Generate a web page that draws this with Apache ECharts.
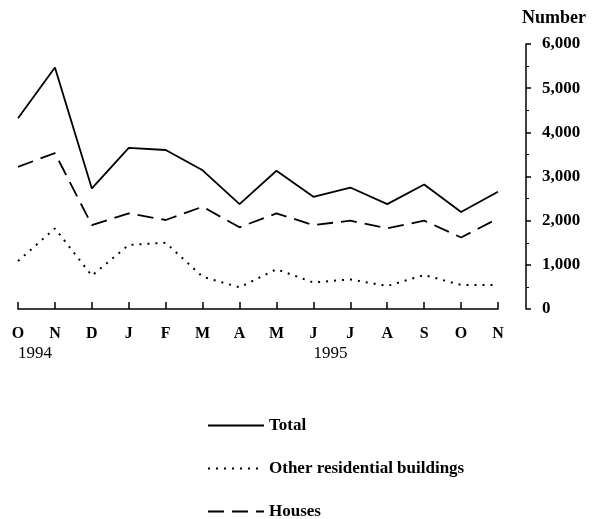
<!DOCTYPE html>
<html>
<head>
<meta charset="utf-8">
<script src="https://cdn.jsdelivr.net/npm/echarts@6/dist/echarts.min.js"></script>
<style>html,body{margin:0;padding:0;background:#fff}#c{width:593px;height:519px}</style>
</head>
<body>
<div id="c"></div>
<script>
const months = ['O','N','D','J','F','M','A','M','J','J','A','S','O','N'];
const years = ['1994','','','','','','','','1995','','','','',''];
const total = [4320, 5470, 2730, 3650, 3600, 3140, 2375, 3130, 2540, 2750, 2375, 2820, 2195, 2655];
const other = [1085, 1825, 755, 1450, 1500, 730, 490, 900, 600, 670, 520, 770, 545, 545];
const houses = [3220, 3530, 1900, 2165, 2015, 2315, 1850, 2165, 1900, 2000, 1825, 2000, 1620, 2050];
const seriesNames = ['Total', 'Other residential buildings', 'Houses'];

const font = 'Liberation Serif';
const legendTops = [412, 455, 498];
const chart = echarts.init(document.getElementById('c'));
chart.setOption({
  animation: false,
  backgroundColor: '#fff',
  grid: {left: 18, right: 95, top: 44, bottom: 210},
  legend: seriesNames.map((n, i) => ({
    orient: 'vertical', left: 202, top: legendTops[i], itemWidth: 56, itemHeight: 14,
    itemStyle: {opacity: 0},
    textStyle: {fontFamily: font, fontSize: 17, fontWeight: 'bold', color: '#000'},
    data: [n]
  })),
  xAxis: [{
    type: 'category', data: months, boundaryGap: false, offset: 2,
    axisLine: {lineStyle: {color: '#000', width: 1.5}},
    axisTick: {inside: true, length: 7, lineStyle: {color: '#000', width: 1.5}},
    axisLabel: {margin: 15, fontFamily: font, fontSize: 16, fontWeight: 'bold', color: '#000', interval: 0}
  }, {
    type: 'category', data: years, boundaryGap: false, position: 'bottom', offset: 2,
    axisLine: {show: false}, axisTick: {show: false},
    axisLabel: {margin: 34, align: 'left', fontFamily: font, fontSize: 17, color: '#000', interval: 0}
  }],
  yAxis: {
    type: 'value', position: 'right', offset: 28, min: 0, max: 6000, interval: 1000,
    name: 'Number', nameLocation: 'end', nameGap: 17,
    nameTextStyle: {fontFamily: font, fontSize: 18, fontWeight: 'bold', color: '#000', align: 'left', padding: [0, 0, 0, -4]},
    splitLine: {show: false},
    axisLine: {show: true, lineStyle: {color: '#000', width: 1.5}},
    axisTick: {show: true, length: 5, lineStyle: {color: '#000', width: 1.5}},
    minorTick: {show: true, splitNumber: 2, length: 3, lineStyle: {color: '#000'}},
    axisLabel: {margin: 16, fontFamily: font, fontSize: 17, fontWeight: 'bold', color: '#000',
      formatter: v => v.toLocaleString('en-US')}
  },
  series: [
    {name: seriesNames[0], type: 'line', data: total, symbol: 'none', color: '#000',
      lineStyle: {color: '#000', width: 1.8, type: 'solid'}},
    {name: seriesNames[1], type: 'line', data: other, symbol: 'none', color: '#000',
      lineStyle: {color: '#000', width: 2, type: [2, 6]}},
    {name: seriesNames[2], type: 'line', data: houses, symbol: 'none', color: '#000',
      lineStyle: {color: '#000', width: 1.8, type: [16, 8]}}
  ]
});
</script>
</body>
</html>
